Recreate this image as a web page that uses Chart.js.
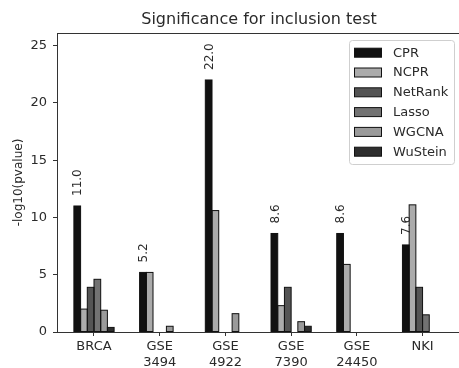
<!DOCTYPE html>
<html>
<head>
<meta charset="utf-8">
<script src="https://cdn.jsdelivr.net/npm/chart.js@4.4.1/dist/chart.umd.min.js"></script>
<style>
  html, body { margin: 0; padding: 0; background: #fff; overflow: hidden; width: 459px; height: 368px; }
  canvas { display: block; }
</style>
</head>
<body>
<canvas id="c" width="461" height="368"></canvas>
<script>
// data
const categories = [['BRCA'], ['GSE', '3494'], ['GSE', '4922'], ['GSE', '7390'], ['GSE', '24450'], ['NKI']];
const methods = ['CPR', 'NCPR', 'NetRank', 'Lasso', 'WGCNA', 'WuStein'];
const cpr     = [11.0, 5.2, 22.0, 8.6, 8.6, 7.6];
const ncpr    = [2.0, 5.2, 10.6, 2.3, 5.9, 11.1];
const netrank = [3.9, 0, 0, 3.9, 0, 3.9];
const lasso   = [4.6, 0, 0, 0, 0, 1.5];
const wgcna   = [1.9, 0.5, 1.6, 0.9, 0, 0];
const wustein = [0.4, 0, 0, 0.5, 0, 0];
const yTicks  = [0, 5, 10, 15, 20, 25];

const colors = ['#111111', '#ababab', '#545454', '#727272', '#9a9a9a', '#2e2e2e'];
const series = [cpr, ncpr, netrank, lasso, wgcna, wustein];
const FONT = "'DejaVu Sans', sans-serif";
const TXT = '#2a2a2a';

const datasets = series.map((vals, k) => ({
    label: methods[k],
    data: vals.map((v, i) => ({ x: i, y: v })),
    backgroundColor: colors[k],
    borderWidth: 0,
    inflateAmount: 0,
    categoryPercentage: 0.612,
    barPercentage: 1.0
}));

// bar edges, frame (top/right spines), CPR value labels, legend inside the axes, title
const decor = {
    id: 'decor',
    afterDatasetsDraw(chart) {
        const ctx = chart.ctx, a = chart.chartArea;
        ctx.save();

        // black edges round every bar, like matplotlib edgecolor
        ctx.strokeStyle = '#111';
        ctx.lineWidth = 1;
        chart.data.datasets.forEach((ds, k) => {
            chart.getDatasetMeta(k).data.forEach(el => {
                const p = el.getProps(['x', 'y', 'base', 'width'], true);
                if (p.base - p.y > 0.5) ctx.strokeRect(p.x - p.width / 2, p.y, p.width, p.base - p.y);
            });
        });

        ctx.strokeStyle = '#333';
        ctx.beginPath();
        ctx.moveTo(a.left, a.top + 0.5);
        ctx.lineTo(a.right, a.top + 0.5);
        ctx.moveTo(a.right - 0.5, a.top);
        ctx.lineTo(a.right - 0.5, a.bottom);
        ctx.stroke();

        // rotated CPR labels
        const meta = chart.getDatasetMeta(0);
        ctx.fillStyle = TXT;
        ctx.font = '12px ' + FONT;
        ctx.textAlign = 'left';
        ctx.textBaseline = 'middle';
        meta.data.forEach((el, i) => {
            ctx.save();
            ctx.translate(el.x + 1, el.y - 10);
            ctx.rotate(-Math.PI / 2);
            ctx.fillText(cpr[i].toFixed(1), 0, 0);
            ctx.restore();
        });

        // legend
        const lx = 349.5, ly = 40.5, lw = 105, lh = 124;
        ctx.fillStyle = 'rgba(255,255,255,0.85)';
        ctx.strokeStyle = '#cfcfcf';
        ctx.beginPath();
        ctx.roundRect(lx, ly, lw, lh, 3);
        ctx.fill();
        ctx.stroke();
        ctx.font = '13px ' + FONT;
        methods.forEach((m, k) => {
            const cy = 52.7 + 19.8 * k;
            ctx.fillStyle = colors[k];
            ctx.fillRect(354.5, cy - 4.5, 27, 9);
            ctx.strokeStyle = '#111';
            ctx.strokeRect(354.5, cy - 4.5, 27, 9);
            ctx.fillStyle = TXT;
            ctx.textAlign = 'left';
            ctx.fillText(m, 393, cy + 0.5);
        });

        // title
        ctx.font = '16px ' + FONT;
        ctx.textAlign = 'center';
        ctx.fillStyle = TXT;
        ctx.fillText('Significance for inclusion test', 259, 20);
        ctx.restore();
    }
};

new Chart(document.getElementById('c'), {
    type: 'bar',
    data: { datasets },
    options: {
        responsive: false,
        animation: false,
        layout: { padding: { top: 33, left: 0, right: 0, bottom: 0 } },
        plugins: { legend: { display: false }, tooltip: { enabled: false }, title: { display: false } },
        scales: {
            x: {
                type: 'linear',
                offset: false,
                min: -0.563,
                max: 5.585,
                grid: { drawOnChartArea: false, drawTicks: true, tickLength: 4, color: '#333', offset: false },
                border: { display: true, color: '#333' },
                ticks: {
                    stepSize: 1,
                    includeBounds: false,
                    autoSkip: false,
                    maxRotation: 0,
                    padding: 3,
                    color: TXT,
                    font: { family: FONT, size: 13 },
                    callback: (v) => (Number.isInteger(v) && categories[v]) ? categories[v] : ''
                },
                afterFit(s) { s.height = 36; }
            },
            y: {
                min: 0,
                max: 26.1,
                grid: { drawOnChartArea: false, drawTicks: true, tickLength: 4, color: '#333' },
                border: { display: true, color: '#333' },
                afterBuildTicks(s) { s.ticks = yTicks.map(v => ({ value: v })); },
                ticks: {
                    padding: 6,
                    color: TXT,
                    font: { family: FONT, size: 13 }
                },
                title: {
                    display: true,
                    text: '-log10(pvalue)',
                    color: TXT,
                    font: { family: FONT, size: 12 },
                    padding: { top: 12, bottom: 0 }
                },
                afterFit(s) { s.width = 57; }
            }
        }
    },
    plugins: [decor]
});
</script>
</body>
</html>
